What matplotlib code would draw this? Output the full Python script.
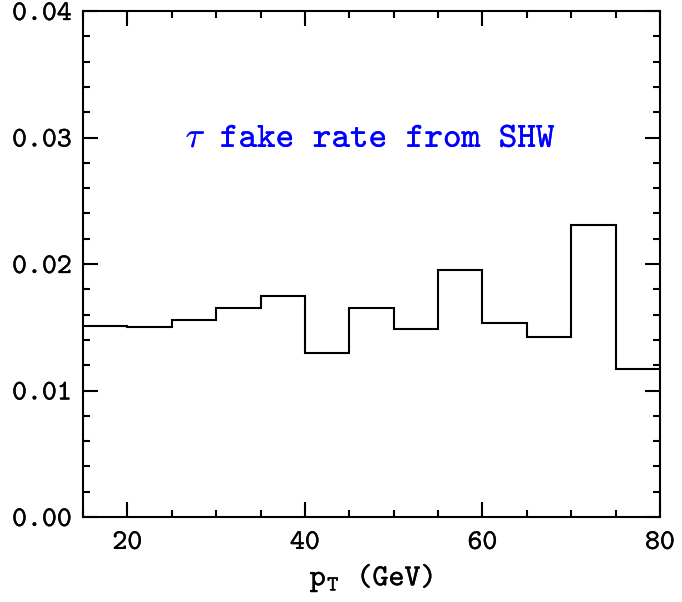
import matplotlib
matplotlib.use("Agg")
import matplotlib.pyplot as plt
import matplotlib.patheffects as pe
import numpy as np
from matplotlib.ticker import MultipleLocator

# pT bin edges (GeV) and fake rate per bin
edges = np.arange(15, 85, 5)
fake_rate = [0.0151, 0.0150, 0.0156, 0.0165, 0.0175, 0.0130, 0.0165,
             0.0149, 0.0195, 0.0153, 0.0142, 0.0231, 0.0117]

plt.rcParams['font.family'] = 'cmtt10'
plt.rcParams['mathtext.fontset'] = 'cm'
plt.rcParams['axes.unicode_minus'] = False

fig = plt.figure(figsize=(6.82, 6.02), dpi=100)
ax = fig.add_axes([0.1217, 0.1412, 0.846, 0.8405])

ax.stairs(fake_rate, edges, baseline=None, color='black', linewidth=1.5)

ax.set_xlim(15, 80)
ax.set_ylim(0, 0.04)
ax.xaxis.set_major_locator(MultipleLocator(20))
ax.xaxis.set_minor_locator(MultipleLocator(5))
ax.yaxis.set_major_locator(MultipleLocator(0.01))
ax.yaxis.set_minor_locator(MultipleLocator(0.002))
ax.yaxis.set_major_formatter(lambda v, pos: f"{v:.2f}")

ax.tick_params(which='both', direction='in', top=True, right=True,
               width=1.5, labelsize=20.5)
ax.tick_params(which='major', length=11)
ax.tick_params(which='minor', length=5)
ax.tick_params(axis='y', pad=8)
ax.tick_params(axis='x', pad=10)
for s in ax.spines.values():
    s.set_linewidth(1.5)

# slightly heavier strokes for the typewriter labels
thick = [pe.withStroke(linewidth=0.2, foreground='black')]
for lab in ax.get_xticklabels() + ax.get_yticklabels():
    lab.set_path_effects(thick)

xl = ax.set_xlabel(r'$\mathtt{p_T}$ (GeV)', fontsize=22, labelpad=4)
xl.set_path_effects(thick)

txt = ax.text(0.499, 0.745, r'$\tau$ fake rate from SHW', transform=ax.transAxes,
              ha='center', va='center', color='blue', fontsize=25.5)
txt.set_path_effects([pe.withStroke(linewidth=0.15, foreground='blue')])

fig.savefig('out.png', dpi=100)
